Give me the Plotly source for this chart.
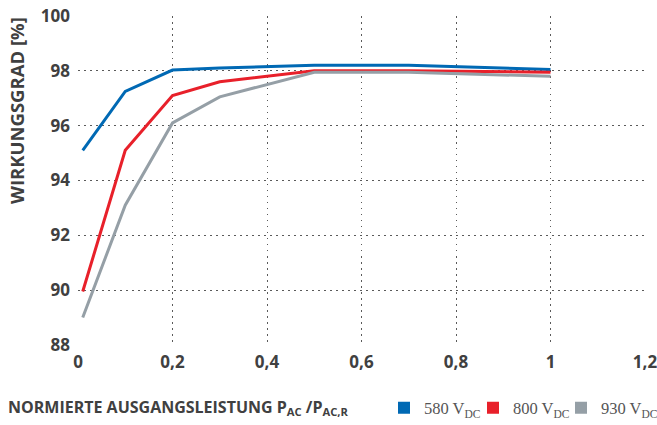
import plotly.graph_objects as go

x_vals = [0.01, 0.1, 0.2, 0.3, 0.5, 0.7, 1.0]
eff_580 = [95.1, 97.25, 98.03, 98.1, 98.2, 98.2, 98.05]
eff_800 = [89.95, 95.1, 97.1, 97.6, 98.0, 98.0, 97.95]
eff_930 = [89.0, 93.1, 96.1, 97.05, 97.95, 97.95, 97.8]

series_names = ["580 V<sub>DC</sub>", "800 V<sub>DC</sub>", "930 V<sub>DC</sub>"]
series_vals = [eff_580, eff_800, eff_930]
colors = ["#0069b4", "#e8202a", "#959fa6"]

x_ticks = [0, 0.2, 0.4, 0.6, 0.8, 1.0, 1.2]
x_ticktext = ["0", "0,2", "0,4", "0,6", "0,8", "1", "1,2"]
y_ticks = [88, 90, 92, 94, 96, 98, 100]

TXT = "#404040"
W, H = 657, 425
ML, MR, MT, MB = 78, 12, 16, 80
PW, PH = W - ML - MR, H - MT - MB
legend_ids = ["legend", "legend2", "legend3"]
legend_px = [384, 473, 561]  # legend box left edges in pixels

fig = go.Figure()
for name, vals, c in zip(series_names, series_vals, colors):
    fig.add_trace(go.Scatter(x=x_vals, y=vals, mode="lines", line=dict(color=c, width=3),
                             showlegend=False, name=name))
for name, c, lid in zip(series_names, colors, legend_ids):
    fig.add_trace(go.Scatter(x=[None], y=[None], mode="markers",
                             marker=dict(symbol="square", size=12, color=c),
                             name=name, showlegend=True, legend=lid))

tick_font = dict(family="Open Sans", size=17, color=TXT, weight="bold")
grid = dict(showgrid=True, gridcolor="#5a5a5a", griddash="1.5px,4.5px", gridwidth=1.4,
            zeroline=False, showline=False, ticks="", automargin=False)
leg_y = -(408 - MT - PH) / PH
leg_common = dict(orientation="h", xanchor="left", y=leg_y, yanchor="middle",
                  font=dict(family="Liberation Serif", size=16.5, color="#555"),
                  itemwidth=30, bgcolor="rgba(0,0,0,0)", borderwidth=0)
layout_legends = {lid: dict(x=(px - ML) / PW, **leg_common) for lid, px in zip(legend_ids, legend_px)}

fig.update_layout(
    width=W, height=H,
    margin=dict(l=ML, r=MR, t=MT, b=MB, autoexpand=False),
    plot_bgcolor="white", paper_bgcolor="white",
    xaxis=dict(range=[0, 1.2], tickvals=x_ticks, ticktext=x_ticktext,
               tickfont=tick_font, ticklabelstandoff=5, ticklabeloverflow="allow", **grid),
    yaxis=dict(range=[88, 100], tickvals=y_ticks,
               tickfont=tick_font, ticklabelstandoff=7, ticklabeloverflow="allow", **grid),
    annotations=[
        dict(text="NORMIERTE AUSGANGSLEISTUNG P<sub>AC</sub> /P<sub>AC,R</sub>",
             xref="paper", yref="paper", x=-(ML - 6) / PW, y=-(407 - MT - PH) / PH,
             xanchor="left", yanchor="middle", showarrow=False,
             font=dict(family="Open Sans", size=16, color=TXT, weight="bold")),
        dict(text="WIRKUNGSGRAD [%]", textangle=-90,
             xref="paper", yref="paper", x=-(ML - 17) / PW, y=(PH + MT - 111) / PH,
             xanchor="center", yanchor="middle", showarrow=False,
             font=dict(family="Open Sans", size=18.5, color=TXT, weight="bold")),
    ],
    **layout_legends,
)
fig.write_html("out.html", config={"displayModeBar": False},
               post_script="document.body.style.margin='0px';document.body.style.overflow='hidden';")
